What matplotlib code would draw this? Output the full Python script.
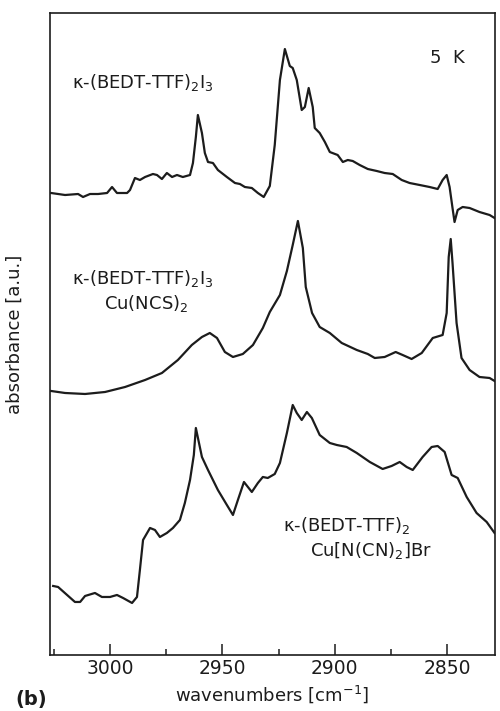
import matplotlib
matplotlib.use("Agg")
import matplotlib.pyplot as plt
from matplotlib.ticker import MultipleLocator

plt.rcParams["font.family"] = ["DejaVu Sans"]
plt.rcParams["mathtext.default"] = "regular"

# kappa-(BEDT-TTF)2I3 spectrum (top trace)
wn_i3 = [3026.2, 3020.0, 3014.2, 3012.0, 3008.9, 3005.3, 3001.3, 2999.1, 2996.9, 2992.4,
         2991.1, 2988.9, 2986.7, 2984.4, 2980.9, 2979.1, 2976.9, 2974.7, 2972.4, 2970.2,
         2967.6, 2964.4, 2963.1, 2961.8, 2960.9, 2959.1, 2957.8, 2956.4, 2954.2, 2952.0,
         2948.0, 2944.4, 2942.2, 2940.0, 2936.9, 2934.2, 2931.6, 2928.9, 2926.7, 2924.4,
         2922.2, 2920.0, 2918.7, 2916.9, 2914.7, 2913.3, 2911.6, 2909.8, 2908.9, 2906.7,
         2904.4, 2902.2, 2898.7, 2896.4, 2894.2, 2892.0, 2888.9, 2885.3, 2881.3, 2877.8,
         2874.2, 2870.2, 2866.7, 2862.2, 2857.8, 2854.2, 2852.0, 2850.2, 2848.9, 2847.6,
         2846.7, 2845.3, 2843.1, 2840.0, 2835.6, 2831.1, 2828.9]
abs_i3 = [4.62, 4.60, 4.61, 4.58, 4.61, 4.61, 4.62, 4.68, 4.62, 4.62,
          4.65, 4.77, 4.75, 4.78, 4.81, 4.80, 4.76, 4.82, 4.78, 4.80,
          4.78, 4.80, 4.92, 5.18, 5.40, 5.22, 5.02, 4.93, 4.92, 4.85,
          4.78, 4.72, 4.71, 4.68, 4.67, 4.62, 4.58, 4.69, 5.10, 5.75,
          6.06, 5.89, 5.87, 5.75, 5.45, 5.48, 5.67, 5.48, 5.27, 5.22,
          5.13, 5.03, 5.00, 4.93, 4.95, 4.94, 4.90, 4.86, 4.84, 4.82,
          4.81, 4.75, 4.72, 4.70, 4.68, 4.66, 4.75, 4.80, 4.68, 4.47,
          4.33, 4.45, 4.48, 4.47, 4.43, 4.40, 4.37]

# kappa-(BEDT-TTF)2Cu(NCS)2 spectrum (middle trace)
wn_ncs = [3026.2, 3020.0, 3011.1, 3002.2, 2993.3, 2984.4, 2976.9, 2969.8, 2963.6, 2959.1,
          2955.6, 2952.4, 2948.9, 2945.3, 2940.9, 2936.4, 2932.0, 2928.9, 2924.4, 2921.3,
          2918.7, 2916.4, 2914.2, 2912.9, 2910.1, 2906.7, 2902.2, 2896.9, 2890.2, 2885.3,
          2882.2, 2877.8, 2872.9, 2869.8, 2865.8, 2861.3, 2856.4, 2852.0, 2850.2, 2849.3,
          2848.4, 2847.6, 2845.8, 2843.6, 2840.0, 2835.6, 2831.1, 2828.9]
abs_ncs = [2.64, 2.62, 2.61, 2.63, 2.68, 2.75, 2.82, 2.95, 3.10, 3.18,
           3.22, 3.17, 3.03, 2.98, 3.01, 3.10, 3.27, 3.43, 3.60, 3.84,
           4.10, 4.34, 4.07, 3.68, 3.42, 3.28, 3.22, 3.12, 3.05, 3.01,
           2.97, 2.98, 3.03, 3.00, 2.96, 3.02, 3.17, 3.20, 3.42, 3.98,
           4.16, 3.92, 3.32, 2.97, 2.85, 2.78, 2.77, 2.74]

# kappa-(BEDT-TTF)2Cu[N(CN)2]Br spectrum (bottom trace)
wn_br = [3025.3, 3023.1, 3019.1, 3015.6, 3013.3, 3011.1, 3006.7, 3003.6, 3000.0, 2996.9,
         2994.2, 2990.2, 2988.0, 2986.7, 2985.3, 2982.2, 2980.0, 2977.8, 2974.7, 2972.0,
         2968.9, 2966.7, 2964.4, 2962.7, 2961.8, 2959.1, 2956.4, 2952.0, 2948.0, 2945.3,
         2943.1, 2940.4, 2936.9, 2934.2, 2932.0, 2929.8, 2926.7, 2924.4, 2921.3, 2918.7,
         2916.9, 2914.7, 2912.4, 2910.2, 2906.7, 2902.2, 2899.1, 2894.7, 2890.2, 2884.4,
         2878.7, 2874.7, 2871.1, 2868.0, 2865.3, 2860.9, 2856.9, 2854.2, 2851.1, 2848.0,
         2845.3, 2841.3, 2836.9, 2832.4, 2828.9]
abs_br = [0.69, 0.68, 0.60, 0.53, 0.53, 0.59, 0.62, 0.58, 0.58, 0.60,
          0.57, 0.52, 0.58, 0.85, 1.15, 1.27, 1.25, 1.18, 1.22, 1.27,
          1.35, 1.52, 1.75, 2.00, 2.27, 1.98, 1.85, 1.65, 1.50, 1.40,
          1.55, 1.73, 1.63, 1.72, 1.78, 1.77, 1.81, 1.92, 2.22, 2.50,
          2.42, 2.35, 2.43, 2.37, 2.20, 2.12, 2.10, 2.08, 2.02, 1.93,
          1.86, 1.89, 1.93, 1.88, 1.85, 1.98, 2.08, 2.09, 2.03, 1.80,
          1.77, 1.58, 1.42, 1.33, 1.22]

x_ticks = [3000, 2950, 2900, 2850]
x_tick_labels = ["3000", "2950", "2900", "2850"]

ink = "#1c1c1c"
fs = 13

fig = plt.figure(figsize=(5.0, 7.11), dpi=100)
ax = fig.add_axes([0.100, 0.0788, 0.890, 0.9029])

for wn, a in ((wn_i3, abs_i3), (wn_ncs, abs_ncs), (wn_br, abs_br)):
    ax.plot(wn, a, color=ink, lw=1.6, solid_joinstyle="round")

ax.set_xlim(3026.7, 2828.7)
ax.set_ylim(0, 6.42)

ax.set_xticks(x_ticks)
ax.set_xticklabels(x_tick_labels)
ax.xaxis.set_minor_locator(MultipleLocator(25))
ax.tick_params(axis="x", which="major", direction="in", length=8, width=1.1,
               color=ink, labelsize=13.5, labelcolor=ink, pad=3)
ax.tick_params(axis="x", which="minor", direction="in", length=4, width=1.1, color=ink)
ax.set_yticks([])
for s in ax.spines.values():
    s.set_linewidth(1.2)
    s.set_color(ink)

ax.set_xlabel("wavenumbers [cm$^{-1}$]", fontsize=fs, color=ink, labelpad=4)
ax.set_ylabel("absorbance [a.u.]", fontsize=fs, color=ink)
ax.yaxis.set_label_coords(-0.058, 0.5)

tkw = dict(fontsize=fs, color=ink, va="center", ha="left")
ax.text(3016.9, 5.73, "κ-(BEDT-TTF)$_2$I$_3$", **tkw)
ax.text(2857.8, 5.97, "5  K", **tkw)
ax.text(3016.9, 3.76, "κ-(BEDT-TTF)$_2$I$_3$", **tkw)
ax.text(3002.7, 3.51, "Cu(NCS)$_2$", **tkw)
ax.text(2923.1, 1.29, "κ-(BEDT-TTF)$_2$", **tkw)
ax.text(2911.1, 1.04, "Cu[N(CN)$_2$]Br", **tkw)

fig.text(0.030, 0.003, "(b)", fontsize=14, fontweight="bold", color=ink,
         ha="left", va="bottom")

fig.savefig("out.png", dpi=100, facecolor="white")
